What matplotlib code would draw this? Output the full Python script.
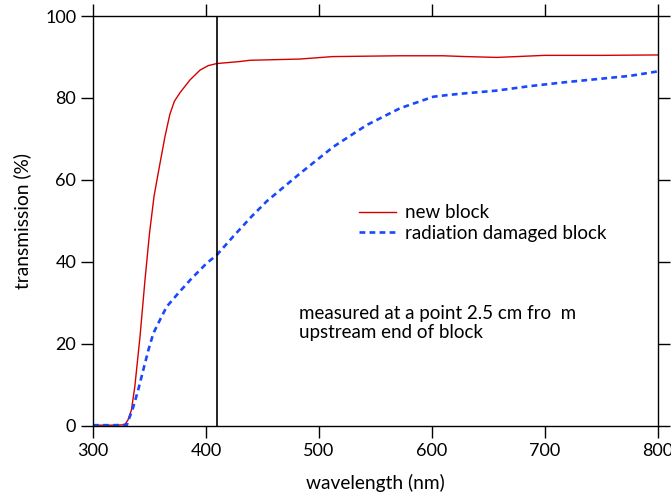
import numpy as np
import matplotlib
matplotlib.use("Agg")
import matplotlib.pyplot as plt

plt.rcParams['font.family'] = ['Lato', 'DejaVu Sans']

# new block
wl_new = [300, 320, 328, 331, 334, 337, 341.6, 346, 350, 354, 358.7, 363.7,
          368, 372, 377, 385.8, 394.7, 402, 409.5, 430, 439, 483, 512, 571.7, 609.7,
          630, 657.5, 700, 750, 800]
tr_new = [0.2, 0.2, 0.3, 1.5, 3.9, 9.6, 21.8, 35.6, 47.0, 56.0, 63.2, 70.6,
          76.0, 79.2, 81.3, 84.4, 86.8, 87.9, 88.4, 88.9, 89.2, 89.5, 90.1, 90.3, 90.3,
          90.1, 89.9, 90.4, 90.4, 90.5]

# radiation damaged block
wl_dmg = [300, 320, 330, 335.7, 340, 344.5, 349, 353.4, 359.3, 365.2, 375.5, 387.3,
          400.6, 409.5, 424, 440, 453.7, 483.2, 512.7, 542.2, 571.7, 601, 613, 627.7,
          657, 686.7, 716.2, 745.7, 775.2, 800]
tr_dmg = [0.2, 0.2, 0.3, 4.7, 8.8, 13.7, 18.5, 22.6, 25.9, 29.1, 32.4, 36.0,
          39.7, 41.7, 46.2, 51.0, 54.8, 61.6, 68.1, 73.4, 77.5, 80.3, 80.7, 81.1,
          81.8, 82.9, 83.8, 84.6, 85.4, 86.5]

xticks = [300, 400, 500, 600, 700, 800]
yticks = [0, 20, 40, 60, 80, 100]
marker_wl = 410

fig = plt.figure(figsize=(6.71, 4.96), dpi=100)
ax = fig.add_axes([93 / 671, 70 / 496, 565 / 671, 410 / 496])

ax.plot(wl_new, tr_new, color='#d40000', lw=1.0, label='new block')
ax.plot(wl_dmg, tr_dmg, color='#1a48ff', lw=1.9, dashes=(2.2, 1.6),
        label='radiation damaged block')
ax.axvline(marker_wl, color='black', lw=1.2)

ax.set_xlim(300, 800)
ax.set_ylim(0, 100)
ax.set_xticks(xticks)
ax.set_yticks(yticks)
ax.tick_params(direction='out', length=8.6, width=1.0, labelsize=13,
               top=True, right=True, labeltop=False, labelright=False)
for s in ax.spines.values():
    s.set_linewidth(1.0)

ax.set_xlabel('wavelength (nm)', fontsize=13.8, labelpad=11)
ax.set_ylabel('transmission (%)', fontsize=13.8, labelpad=10)

ax.legend(loc='center left', bbox_to_anchor=(342 / 671, 1 - 223 / 496),
          bbox_transform=fig.transFigure, frameon=False, fontsize=13.5,
          handlelength=2.0, handletextpad=0.45, labelspacing=0.16)

ax.text(299 / 671, 1 - 323 / 496,
        'measured at a point 2.5 cm fro  m\nupstream end of block',
        transform=fig.transFigure, fontsize=13.5, va='center', ha='left',
        linespacing=1.2)

fig.savefig('out.png', dpi=100)
